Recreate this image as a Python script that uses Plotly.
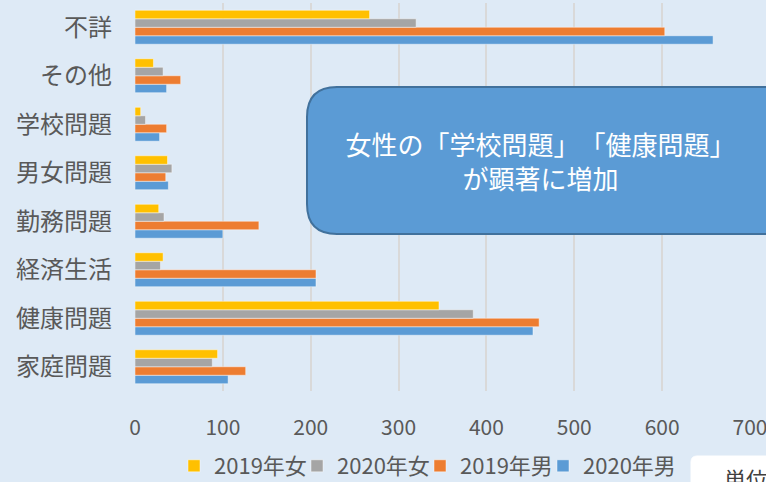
import plotly.graph_objects as go

categories = ["家庭問題", "健康問題", "経済生活", "勤務問題", "男女問題", "学校問題", "その他", "不詳"]
male_2020 = [106, 453, 206, 100, 38, 28, 36, 658]
male_2019 = [126, 460, 206, 141, 35, 36, 52, 603]
female_2020 = [88, 385, 29, 33, 42, 12, 32, 320]
female_2019 = [94, 346, 32, 27, 37, 6.5, 21, 267]
series_names = ["2020年男", "2019年男", "2020年女", "2019年女"]
series_colors = ["#5B9BD5", "#ED7D31", "#A5A5A5", "#FFC000"]
x_ticks = [0, 100, 200, 300, 400, 500, 600, 700]

FONT = "Noto Sans CJK JP"
W, H = 766, 482
ML, MR, MT, MB = 135, 16, 3, 91
PW, PH = W - ML - MR, H - MT - MB

def px_x(p):
    return (p - ML) / PW

def px_y(p):
    return (H - MB - p) / PH

legend_ids = ["legend4", "legend3", "legend2", "legend"]
legend_left_px = {"legend": 188, "legend2": 311, "legend3": 434, "legend4": 557}

fig = go.Figure()
for name, vals, col, lid in zip(series_names, [male_2020, male_2019, female_2020, female_2019],
                                series_colors, legend_ids):
    fig.add_trace(go.Bar(
        y=categories, x=vals, name=name, orientation="h",
        marker=dict(color=col, line=dict(color="rgba(255,255,255,0.45)", width=1)),
        legend=lid,
    ))

# rounded callout box
x0, x1 = px_x(307), px_x(800)
yt, yb = px_y(87), px_y(234)
rx, ry = 30 / PW, 30 / PH
path = (f"M {x0+rx},{yt} L {x1},{yt} L {x1},{yb} L {x0+rx},{yb} "
        f"Q {x0},{yb} {x0},{yb+ry} L {x0},{yt-ry} Q {x0},{yt} {x0+rx},{yt} Z")
fig.add_shape(type="path", path=path, xref="paper", yref="paper",
              fillcolor="#5B9BD5", line=dict(color="#41719C", width=2), layer="above")

fig.add_annotation(text="女性の「学校問題」「健康問題」<br>が顕著に増加",
                   xref="paper", yref="paper", x=px_x(540), y=px_y(160),
                   showarrow=False, font=dict(family=FONT, size=26, color="white"),
                   align="center")

# unit box (cut off at right/bottom)
ux0, ux1 = px_x(691), px_x(830)
uy0, uy1 = px_y(456), px_y(520)
r2x, r2y = 6 / PW, 6 / PH
path2 = (f"M {ux0+r2x},{uy0} L {ux1},{uy0} L {ux1},{uy1} L {ux0},{uy1} "
         f"L {ux0},{uy0-r2y} Q {ux0},{uy0} {ux0+r2x},{uy0} Z")
fig.add_shape(type="path", path=path2, xref="paper", yref="paper",
              fillcolor="white", line=dict(color="white", width=1), layer="above")
fig.add_annotation(text="単位：人", xref="paper", yref="paper",
                   x=px_x(722), y=px_y(460), xanchor="left", yanchor="top",
                   showarrow=False, font=dict(family=FONT, size=22, color="#404040"))

legend_common = dict(orientation="h", yanchor="middle", y=px_y(466), xanchor="left",
                     font=dict(size=22, color="#595959"), itemwidth=30,
                     bgcolor="rgba(0,0,0,0)", borderwidth=0)
legends = {lid: dict(legend_common, x=px_x(legend_left_px[lid] - 14)) for lid in legend_ids}

fig.update_layout(
    width=W, height=H,
    margin=dict(l=ML, r=MR, t=MT, b=MB, autoexpand=False),
    paper_bgcolor="#DEEAF6", plot_bgcolor="#DEEAF6",
    barmode="group", bargap=0.3, bargroupgap=0,
    font=dict(family=FONT, color="#595959"),
    xaxis=dict(range=[0, 700], tickvals=x_ticks, showgrid=True, gridcolor="#D9D9D9",
               gridwidth=1.5, zeroline=False, showline=False,
               tickfont=dict(size=21, color="#595959"), ticklabelstandoff=22,
               ticklabeloverflow="allow"),
    yaxis=dict(showgrid=False, zeroline=False, showline=False,
               tickfont=dict(size=24, color="#595959"), ticklabelstandoff=22,
               categoryorder="array", categoryarray=categories),
    showlegend=True,
    **legends,
)

fig.write_html(
    "out.html", config={"displayModeBar": False},
    post_script=("document.body.style.margin='0';"
                 "document.body.style.setProperty('text-spacing-trim','space-all');"
                 "Plotly.relayout('{plot_id}', {});"),
)
